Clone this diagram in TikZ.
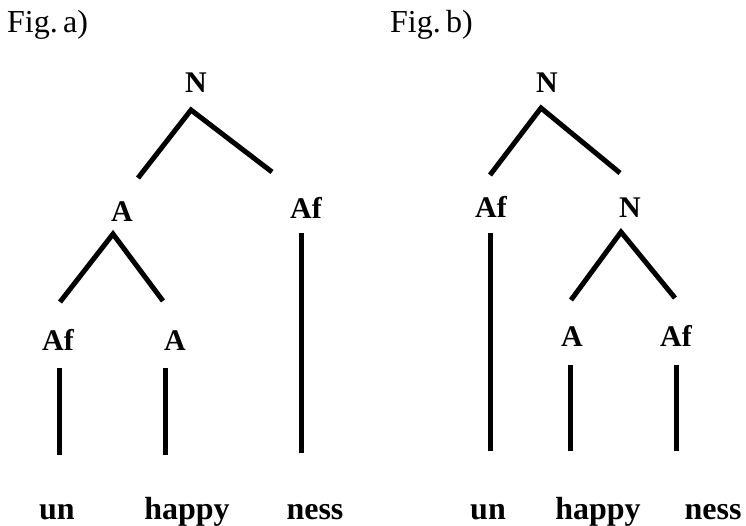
\documentclass[tikz,border=0pt]{standalone}
\usepackage{fontspec}
\setmainfont{Liberation Serif}

\begin{document}
\begin{tikzpicture}[x=1pt,y=-1pt,
  lab/.style={font=\bfseries\fontsize{30}{32}\selectfont,anchor=base,inner sep=0pt},
  word/.style={font=\bfseries\fontsize{32}{34}\selectfont,anchor=base,inner sep=0pt},
  title/.style={font=\fontsize{32}{34}\selectfont,anchor=base west,inner sep=0pt},
  branch/.style={line width=5pt}]
\useasboundingbox (0,0) rectangle (746,526);

% Fig. a): [[un happy] ness]
\node[title] (atitle) at (7,33) {Fig.\,a)};
\node[lab] (aN) at (196,93) {N};
\node[lab] (aA) at (122,222) {A};
\node[lab] (aAf) at (306,219) {Af};
\node[lab] (aAf2) at (58,350) {Af};
\node[lab] (aA2) at (175,350) {A};
\node[word] (aun) at (57,519) {un};
\node[word] (ahappy) at (187,519) {happy};
\node[word] (aness) at (315,519) {ness};
\coordinate (aNtip) at (191,110);
\coordinate (aNl) at (138,178);
\coordinate (aNr) at (272,172);
\coordinate (aAtip) at (113,234);
\coordinate (aAl) at (60,302);
\coordinate (aAr) at (163,301);
\draw[branch] (aNl) -- (aNtip) -- (aNr);
\draw[branch] (aAl) -- (aAtip) -- (aAr);
\draw[branch] (301,233) coordinate (aAfbot) -- (301,453) coordinate (anesstop);
\draw[branch] (59,368) coordinate (aAf2bot) -- (59,455) coordinate (auntop);
\draw[branch] (165,368) coordinate (aA2bot) -- (165,455) coordinate (ahappytop);

% Fig. b): [un [happy ness]]
\node[title] (btitle) at (390,33) {Fig.\,b)};
\node[lab] (bN) at (547,93) {N};
\node[lab] (bAf) at (491,218) {Af};
\node[lab] (bN2) at (630,218) {N};
\node[lab] (bA) at (572,346) {A};
\node[lab] (bAf2) at (676,346) {Af};
\node[word] (bun) at (488,519) {un};
\node[word] (bhappy) at (598,519) {happy};
\node[word] (bness) at (713,519) {ness};
\coordinate (bNtip) at (541,108);
\coordinate (bNl) at (490,175);
\coordinate (bNr) at (620,173);
\coordinate (bN2tip) at (621,232);
\coordinate (bN2l) at (571,300);
\coordinate (bN2r) at (675,298);
\draw[branch] (bNl) -- (bNtip) -- (bNr);
\draw[branch] (bN2l) -- (bN2tip) -- (bN2r);
\draw[branch] (490,233) coordinate (bAfbot) -- (490,451) coordinate (buntop);
\draw[branch] (570,365) coordinate (bAbot) -- (570,451) coordinate (bhappytop);
\draw[branch] (676,365) coordinate (bAf2bot) -- (676,451) coordinate (bnesstop);
\end{tikzpicture}
\end{document}
